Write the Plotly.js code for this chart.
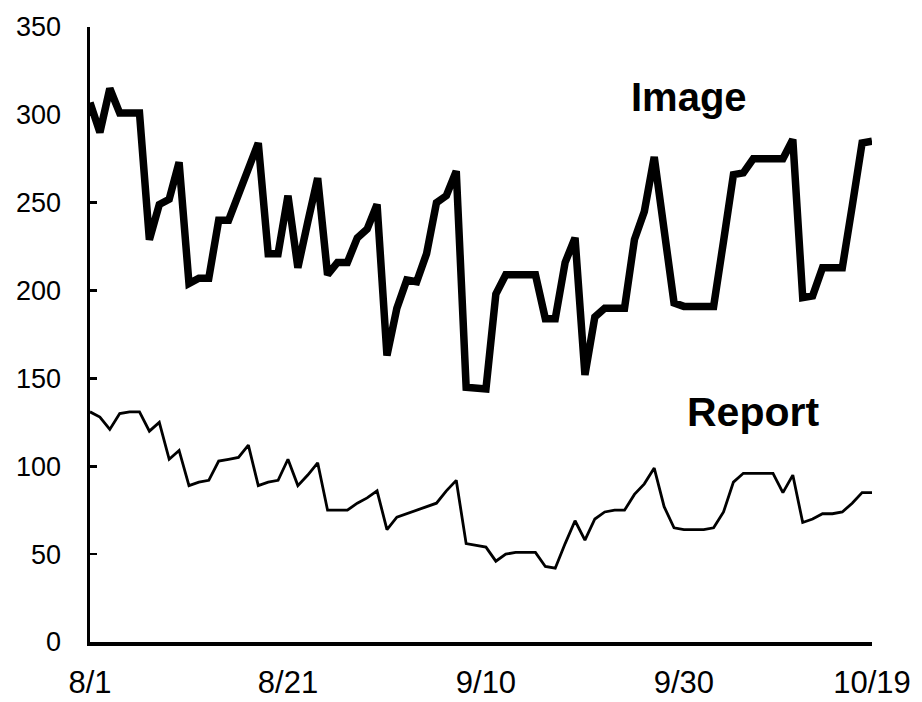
<!DOCTYPE html>
<html>
<head>
<meta charset="utf-8">
<script src="https://cdn.plot.ly/plotly-3.0.1.min.js"></script>
<style>
  html, body { margin: 0; padding: 0; background: #fff; }
  #chart { width: 922px; height: 702px; }
</style>
</head>
<body>
<div id="chart"></div>
<script>
// Daily values, 8/1 to 10/19
var startDate = '1996-08-01';
var dayCount = 80;

var imageValues = [
  307, 290, 315, 301, 301, 301, 229, 249, 252, 273,
  204, 207, 207, 240, 240, 255, 270, 284, 221, 221,
  254, 213, 239, 264, 209, 216, 216, 230, 235, 249,
  163, 190, 206, 205, 221, 250, 254, 268, 145, 144,
  144, 198, 209, 209, 209, 209, 184, 184, 216, 230,
  152, 185, 190, 190, 190, 229, 245, 276, 235, 193,
  191, 191, 191, 191, 228, 266, 267, 275, 275, 275,
  275, 286, 196, 197, 213, 213, 213, 248, 284, 285
];

var reportValues = [
  131, 128, 121, 130, 131, 131, 120, 125, 104, 109,
   89,  91,  92, 103, 104, 105, 112,  89,  91,  92,
  104,  89,  95, 102,  75,  75,  75,  79,  82,  86,
   64,  71,  73,  75,  77,  79,  86,  92,  56,  55,
   54,  46,  50,  51,  51,  51,  43,  42,  56,  69,
   58,  70,  74,  75,  75,  84,  90,  99,  77,  65,
   64,  64,  64,  65,  74,  91,  96,  96,  96,  96,
   85,  95,  68,  70,  73,  73,  74,  79,  85,  85
];

var xTickVals = ['1996-08-01', '1996-08-21', '1996-09-10', '1996-09-30', '1996-10-19'];
var xTickText = ['8/1', '8/21', '9/10', '9/30', '10/19'];
var yTickVals = [0, 50, 100, 150, 200, 250, 300, 350];

var seriesNames = ['Image', 'Report'];

// build the date sequence
var dates = [];
(function () {
  var d0 = new Date(startDate + 'T00:00:00Z');
  for (var i = 0; i < dayCount; i++) {
    var d = new Date(d0.getTime() + i * 86400000);
    dates.push(d.toISOString().slice(0, 10));
  }
})();

var FONT = '"Liberation Sans", Arial, Helvetica, sans-serif';

var traces = [
  {
    x: dates, y: imageValues, name: seriesNames[0],
    type: 'scatter', mode: 'lines',
    line: { color: '#000', width: 7.5, shape: 'linear' },
    hoverinfo: 'x+y'
  },
  {
    x: dates, y: reportValues, name: seriesNames[1],
    type: 'scatter', mode: 'lines',
    line: { color: '#000', width: 2.8, shape: 'linear' },
    hoverinfo: 'x+y'
  }
];

var layout = {
  width: 922, height: 702,
  margin: { l: 90, r: 50, t: 27, b: 60 },
  paper_bgcolor: '#fff', plot_bgcolor: '#fff',
  showlegend: false,
  font: { family: FONT, color: '#000' },
  xaxis: {
    type: 'date',
    range: ['1996-08-01', '1996-10-19'],
    tickmode: 'array', tickvals: xTickVals, ticktext: xTickText,
    ticks: '', showgrid: false, zeroline: false,
    showline: true, linecolor: '#000', linewidth: 3.5,
    tickfont: { family: FONT, size: 31, color: '#000' },
    ticklabelstandoff: 10
  },
  yaxis: {
    range: [0, 350],
    tickmode: 'array', tickvals: yTickVals,
    ticks: 'inside', ticklen: 7, tickwidth: 2.5, tickcolor: '#000',
    showgrid: false, zeroline: false,
    showline: true, linecolor: '#000', linewidth: 3.5,
    tickfont: { family: FONT, size: 27, color: '#000' },
    ticklabelstandoff: 20
  },
  annotations: [
    {
      x: '1996-09-30 12:00', y: 310, xref: 'x', yref: 'y',
      text: '<b>' + seriesNames[0] + '</b>', showarrow: false,
      font: { family: FONT, size: 40, color: '#000' },
      xanchor: 'center', yanchor: 'middle'
    },
    {
      x: '1996-10-07', y: 131, xref: 'x', yref: 'y',
      text: '<b>' + seriesNames[1] + '</b>', showarrow: false,
      font: { family: FONT, size: 41, color: '#000' },
      xanchor: 'center', yanchor: 'middle'
    }
  ]
};

Plotly.newPlot('chart', traces, layout, { displayModeBar: false, staticPlot: true });
</script>
</body>
</html>
